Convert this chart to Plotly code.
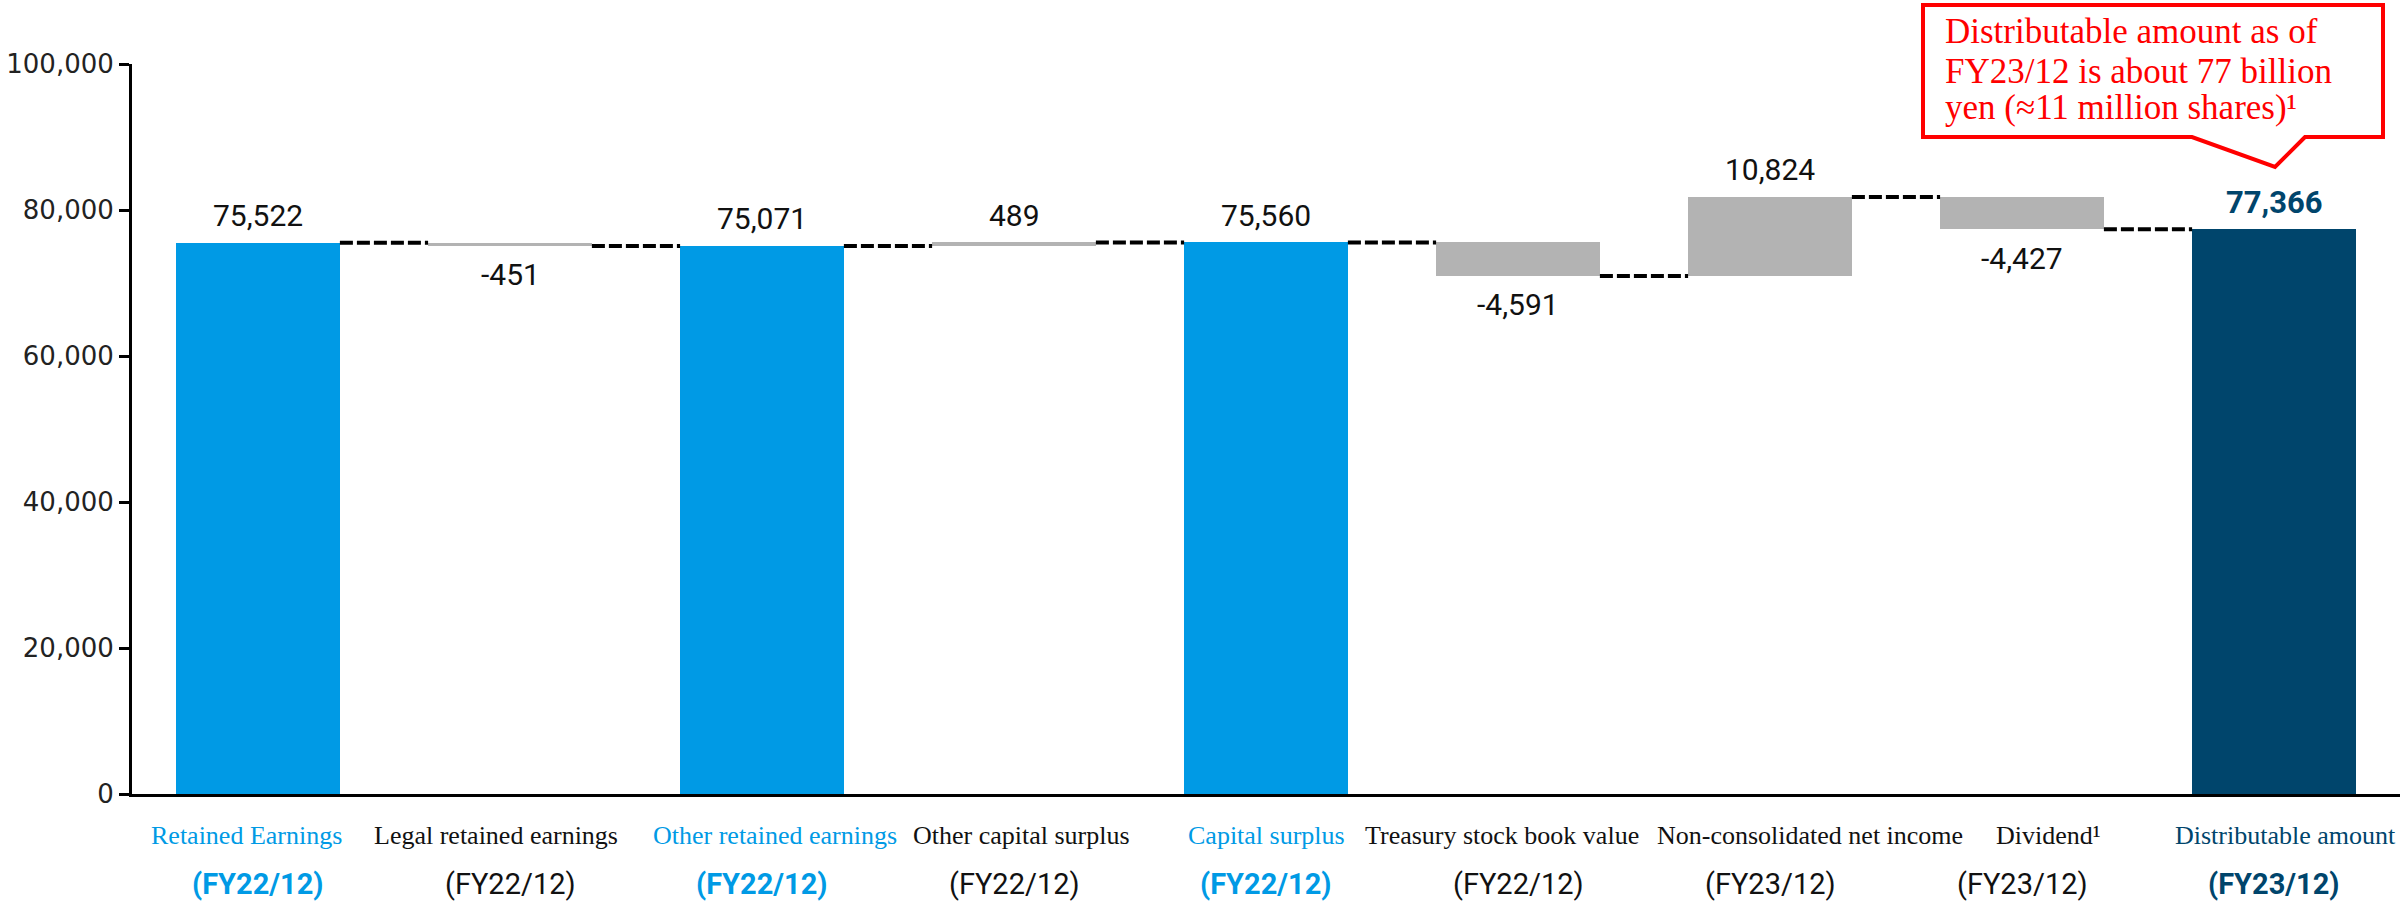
import plotly.graph_objects as go

# ---------------- data ----------------
categories = ["Retained Earnings", "Legal retained earnings", "Other retained earnings",
              "Other capital surplus", "Capital surplus", "Treasury stock book value",
              "Non-consolidated net income", "Dividend¹", "Distributable amount"]
periods = ["(FY22/12)", "(FY22/12)", "(FY22/12)", "(FY22/12)", "(FY22/12)", "(FY22/12)",
           "(FY23/12)", "(FY23/12)", "(FY23/12)"]
measures = ["absolute", "relative", "total", "relative", "total",
            "relative", "relative", "relative", "total"]
values = [75522, -451, 75071, 489, 75560, -4591, 10824, -4427, 77366]
kinds = ["subtotal", "change", "subtotal", "change", "subtotal",
         "change", "change", "change", "final"]
y_ticks = [0, 20000, 40000, 60000, 80000, 100000]
callout_lines = ["Distributable amount as of", "FY23/12 is about 77 billion",
                 "yen (≈11 million shares)¹"]

# ---------------- styles ----------------
BLUE = "#009AE5"
NAVY = "#00456C"
GRAY = "#B3B3B3"
bar_color = {"subtotal": BLUE, "change": GRAY, "final": NAVY}
label_color = {"subtotal": BLUE, "change": "#111111", "final": NAVY}
BAR_W = 0.65

W, H = 2407, 904
ML, MR, MT, MB = 132, 7, 64, 110
PW, PH = W - ML - MR, H - MT - MB


def px_x(p):
    return (p - ML) / PW


def px_y(p):
    return (H - MB - p) / PH


# waterfall geometry from data
bases, heights, levels = [], [], []
running = 0
for m, v in zip(measures, values):
    if m == "relative":
        bases.append(running)
        heights.append(v)
        running += v
    else:
        running = v
        bases.append(0)
        heights.append(v)
    levels.append(running)

xs = list(range(len(categories)))

fig = go.Figure()
fig.add_trace(go.Bar(
    x=xs, y=heights, base=bases, width=BAR_W,
    marker=dict(color=[bar_color[k] for k in kinds], line=dict(width=0)),
    showlegend=False, hoverinfo="skip",
))

# connectors
cx, cy = [], []
for i in range(len(xs) - 1):
    cx += [xs[i] + BAR_W / 2, xs[i + 1] - BAR_W / 2, None]
    cy += [levels[i], levels[i], None]
fig.add_trace(go.Scatter(
    x=cx, y=cy, mode="lines",
    line=dict(color="black", width=4, dash="13px,4px"),
    showlegend=False, hoverinfo="skip",
))

annotations = []
# data labels
for i, (v, k) in enumerate(zip(values, kinds)):
    top = bases[i] + max(heights[i], 0)
    bot = bases[i] + min(heights[i], 0)
    if v >= 0:
        y, shift = top, 27
    else:
        y, shift = bot, -29
    if k == "final":
        font = dict(family="Roboto", size=31, color=NAVY, weight="bold")
    else:
        font = dict(family="Roboto", size=30, color="#111111")
    annotations.append(dict(x=i, y=y, xref="x", yref="y", text=f"{v:,}",
                            showarrow=False, yshift=shift, font=font,
                            xanchor="center", yanchor="middle"))

# category labels (two lines)
name_xshift = [-12, -14, 13, 7, 0, -16, 40, 26, 11]
for i, (c, p, k) in enumerate(zip(categories, periods, kinds)):
    colored = k != "change"
    annotations.append(dict(
        x=i, y=px_y(835), xref="x", yref="paper", text=c, showarrow=False,
        xshift=name_xshift[i], xanchor="center", yanchor="middle",
        font=dict(family="Liberation Serif", size=26, color=label_color[k])))
    annotations.append(dict(
        x=i, y=px_y(884), xref="x", yref="paper", text=p, showarrow=False,
        xanchor="center", yanchor="middle",
        font=dict(family="Roboto", size=29, color=label_color[k],
                  weight="bold" if colored else "normal")))

# callout text
for j, (line, yp) in enumerate(zip(callout_lines, [32, 71, 108])):
    annotations.append(dict(
        x=px_x(1943), y=px_y(yp), xref="paper", yref="paper", text=line,
        showarrow=False, xanchor="left", yanchor="middle",
        font=dict(family="Liberation Serif", size=35, color="#FF0000")))

callout_path = "M {} {} L {} {} L {} {} L {} {} L {} {} L {} {} L {} {} Z".format(
    px_x(1923), px_y(5), px_x(2383), px_y(5), px_x(2383), px_y(137),
    px_x(2305), px_y(137), px_x(2275), px_y(167), px_x(2192), px_y(137),
    px_x(1923), px_y(137))

fig.update_layout(
    width=W, height=H,
    margin=dict(l=ML, r=MR, t=MT, b=MB, pad=0),
    paper_bgcolor="white", plot_bgcolor="white",
    bargap=0,
    annotations=annotations,
    shapes=[dict(type="path", path=callout_path, xref="paper", yref="paper",
                 line=dict(color="#FF0000", width=4), fillcolor="white", layer="above")],
    xaxis=dict(range=[-0.5, len(xs) - 0.5], showticklabels=False, ticks="",
               showline=True, linecolor="black", linewidth=3, showgrid=False,
               zeroline=False),
    yaxis=dict(range=[0, 100000], tickvals=y_ticks, tickformat=",",
               ticks="outside", ticklen=10, tickwidth=3, tickcolor="black",
               showline=True, linecolor="black", linewidth=3, showgrid=False,
               zeroline=False,
               tickfont=dict(family="DejaVu Sans", size=26, color="#222222")),
)

fig.write_html("out.html")
